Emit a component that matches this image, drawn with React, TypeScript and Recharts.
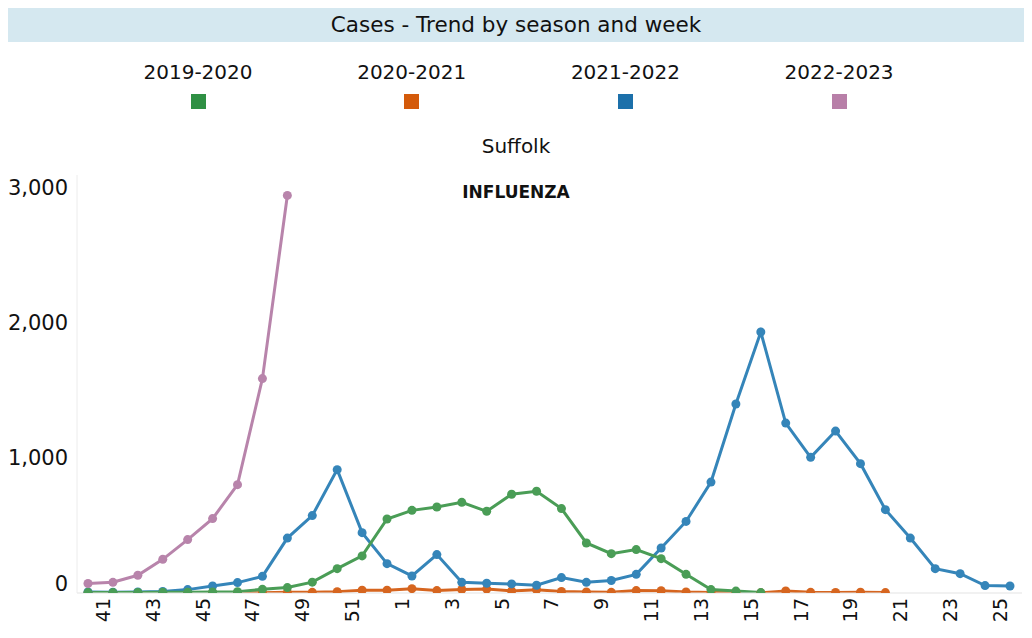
import React from 'react';
import { LineChart, Line, XAxis, YAxis } from 'recharts';

// ISO weeks of the flu season, from week 40 to week 25 of the next year
const weeks: string[] = [
  '40', '41', '42', '43', '44', '45', '46', '47', '48', '49', '50', '51', '52',
  '1', '2', '3', '4', '5', '6', '7', '8', '9', '10', '11', '12', '13', '14', '15',
  '16', '17', '18', '19', '20', '21', '22', '23', '24', '25',
];

// Weekly influenza cases per season (null = no report)
const season2019: (number | null)[] = [
  3, 3, 4, 5, 6, 8, 10, 27, 40, 80, 180, 274, 547,
  611, 636, 670, 604, 730, 752, 624, 370, 291, 321, 254, 138, 25, 14, 3,
  null, null, null, null, null, null, null, null, null, null,
];
const season2020: (number | null)[] = [
  0, 0, 0, 0, 0, 0, 0, 2, 5, 5, 10, 20, 20,
  32, 18, 26, 29, 15, 24, 11, 8, 5, 18, 17, 7, 3, 2, 1,
  15, 5, 4, 6, 3, null, null, null, null, null,
];
const season2021: (number | null)[] = [
  8, 6, 8, 12, 25, 52, 77, 123, 406, 572, 912, 446, 217,
  126, 284, 79, 72, 67, 57, 114, 79, 92, 138, 333, 529, 820, 1397, 1929,
  1256, 1003, 1197, 956, 616, 406, 180, 143, 55, 52,
];
const season2022: (number | null)[] = [
  70, 79, 131, 249, 395, 550, 801, 1585, 2939,
  null, null, null, null, null, null, null, null, null, null, null, null, null, null,
  null, null, null, null, null, null, null, null, null, null, null, null, null, null, null,
];

const seasonNames: string[] = ['2019-2020', '2020-2021', '2021-2022', '2022-2023'];
const seasonKeys: string[] = ['s2019', 's2020', 's2021', 's2022'];
const lineColors: string[] = ['#4a9d56', '#d6651f', '#3585b9', '#b884ab'];
const swatchColors: string[] = ['#2f9044', '#d45a0a', '#1c70aa', '#b87fa8'];
const yTicks: number[] = [0, 1000, 2000, 3000];

const data = weeks.map((week, i) => ({
  week,
  s2019: season2019[i],
  s2020: season2020[i],
  s2021: season2021[i],
  s2022: season2022[i],
}));

const FONT = '"DejaVu Sans", Verdana, sans-serif';

const XTick = (props: any) => {
  const { x, y, payload } = props;
  const wk = Number(payload.value);
  if (wk % 2 === 0) return null;
  return (
    <text
      transform={`translate(${x},${y}) rotate(-90)`}
      textAnchor="end"
      dy={-3}
      fontSize={19}
      fontFamily={FONT}
      fill="#111"
    >
      {payload.value}
    </text>
  );
};

const YTick = (props: any) => {
  const { x, y, payload } = props;
  const lift = payload.value === 0 ? -10 : 0;
  return (
    <text
      x={x}
      y={y + lift}
      textAnchor="end"
      dy="0.36em"
      fontSize={21}
      fontFamily={FONT}
      fill="#111"
    >
      {payload.value.toLocaleString('en-US')}
    </text>
  );
};

// draw order keeps 2019-2020 above the other flat-at-zero series
const drawOrder = [1, 2, 0, 3];

export default function App() {
  return (
    <div style={{ position: 'relative', width: 1016, height: 622, fontFamily: FONT }}>
      <div
        style={{
          position: 'absolute', left: 0, top: 0, width: 1016, height: 34,
          background: '#d5e8f0', textAlign: 'center', lineHeight: '34px',
          fontSize: 21.5, color: '#111',
        }}
      >
        Cases - Trend by season and week
      </div>
      {seasonNames.map((name, i) => (
        <div
          key={name}
          style={{
            position: 'absolute', left: 190 + i * 213.7 - 100, top: 50, width: 200,
            textAlign: 'center', fontSize: 20, color: '#111',
          }}
        >
          <div style={{ lineHeight: '28px' }}>{name}</div>
          <div
            style={{
              width: 15, height: 15, background: swatchColors[i],
              margin: '8px auto 0',
            }}
          />
        </div>
      ))}
      <div
        style={{
          position: 'absolute', left: 0, top: 124, width: 1016, textAlign: 'center',
          fontSize: 20, color: '#111', lineHeight: '28px',
        }}
      >
        Suffolk
      </div>
      <div
        style={{
          position: 'absolute', left: 0, top: 172, width: 1016, textAlign: 'center',
          fontSize: 17, fontWeight: 'bold', color: '#111', lineHeight: '24px', zIndex: 2,
        }}
      >
        INFLUENZA
      </div>
      <div style={{ position: 'absolute', left: 0, top: 0 }}>
        <LineChart
          width={1016}
          height={622}
          data={data}
          margin={{ top: 167, right: 2, bottom: 0, left: 0 }}
        >
          <XAxis
            dataKey="week"
            interval={0}
            height={37}
            tickSize={0}
            tickMargin={5}
            tickLine={false}
            tick={<XTick />}
            axisLine={{ stroke: '#e3e3e3', strokeWidth: 1 }}
            padding={{ left: 11, right: 12 }}
          />
          <YAxis
            type="number"
            domain={[0, 3090]}
            ticks={yTicks}
            width={69}
            tickSize={0}
            tickMargin={9}
            tickLine={false}
            tick={<YTick />}
            axisLine={{ stroke: '#ececec', strokeWidth: 1 }}
            allowDataOverflow
          />
          {drawOrder.map((i) => (
            <Line
              key={seasonKeys[i]}
              dataKey={seasonKeys[i]}
              name={seasonNames[i]}
              type="linear"
              stroke={lineColors[i]}
              strokeWidth={3}
              dot={{ r: 4.5, fill: lineColors[i], stroke: 'none' }}
              activeDot={false}
              isAnimationActive={false}
            />
          ))}
        </LineChart>
      </div>
    </div>
  );
}
